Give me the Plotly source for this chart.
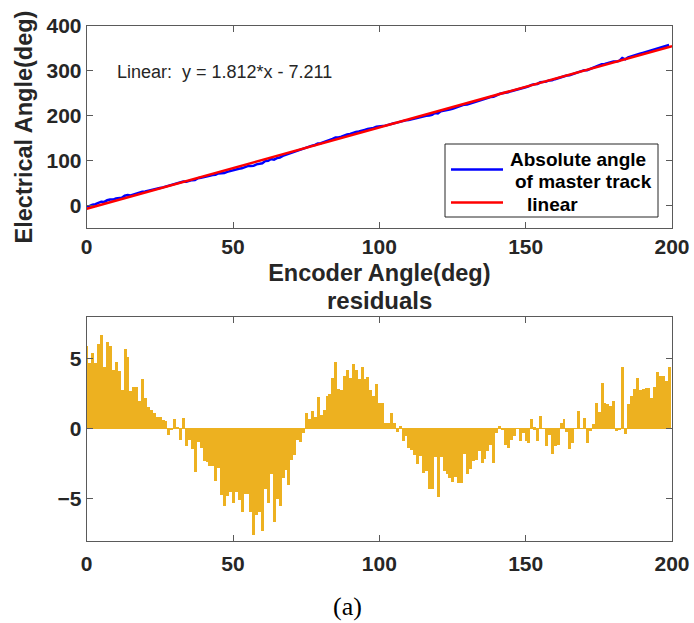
import plotly.graph_objects as go
from plotly.subplots import make_subplots

# Encoder angle samples (deg), one per degree
encoder_angle = list(range(200))

# Residuals of the linear fit (deg)
residuals = [
    5.9, 4.7, 5.4, 4.7, 6.1, 6.75, 4.4, 6.25, 5.95, 4.2,
    4.8, 4.15, 2.8, 5.7, 5.15, 2.7, 3.0, 3.0, 2.0, 3.6,
    2.2, 1.6, 1.4, 1.15, 0.85, 0.85, 0.65, 0.6, -0.45, 0.05,
    0.7, 0.15, -0.8, 0.78,
    -1.23, -0.8, -1.4, -3.07, -0.9, -1.37, -2.24, -2.36, -2.64, -2.64,
    -3.7, -2.8, -4.7, -5.5, -4.8, -4.5, -5.3, -4.5, -5.07, -5.9,
    -4.6, -4.6, -5.9, -7.55, -6.1, -5.9, -7.3, -4.3, -5.3, -3.2,
    -6.6, -4.95, -5.5,
    -3.5, -2.9, -3.95, -2.2, -1.85, -0.8, -0.9, -0.25,
    1.18, 0.75, 1.3, 0.9, 2.3, 1.0, 1.35, 2.36, 2.48, 3.66,
    4.76, 2.88, 2.8, 3.77, 4.2, 3.66, 4.67, 4.2,
    3.6, 4.4, 3.6, 3.7, 2.8, 2.4, 3.25, 1.9, 1.9, 0.42,
    0.42, 1.18, 0.42, -0.17, 0.2, -0.87, -0.52, -1.34, -1.46, -1.86,
    -2.48, -1.93, -3.1, -3.0, -4.25, -4.3, -2.0, -4.85, -2.0, -2.95,
    -3.2, -3.45, -3.77, -3.4, -3.87, -3.87, -1.77, -3.18, -2.83, -2.29,
    -2.2, -1.58, -2.4, -2.12, -1.58, -1.1, -2.4, -0.28, 0.2, 0.1,
    -1.1, -1.34,
    -0.75, -0.52, 0.0, -0.87, -0.28, -0.87, -1.0, 0.7, 0.14, -0.87,
    0.94, 0.0, -1.18, -0.4, -1.8, -1.23, -1.1, 0.42, 0.73, -0.17,
    -1.42, -1.0, 0.0, 1.32, 0.0, 0.78,
    -1.0, -0.1, 0.35, 1.9, 1.23, 3.3, 1.9, 1.77, 1.65, 2.0,
    -0.1, -0.05, 4.4, -0.35, 1.77, 2.36, 2.83, 3.66, 2.78, 2.88,
    2.95, 2.95, 2.24, 3.0, 4.05, 3.77, 3.77, 3.4, 4.43,
]

# Linear fit coefficients: y = slope*x + intercept
fit_slope = 1.812
fit_intercept = -7.211
fit_x = [0, 200]

# Measured absolute angle = fitted value + residual
electrical_angle = [fit_slope * a + fit_intercept + r for a, r in zip(encoder_angle, residuals)]
fit_y = [fit_slope * x + fit_intercept for x in fit_x]

top_yticks = [0, 100, 200, 300, 400]
bottom_yticks = [-5, 0, 5]
xticks = [0, 50, 100, 150, 200]

FONT = "Liberation Sans"
TXT = "#262626"
AXC = "#5a5a5a"
BAR = "#EDB120"
BLUE = "#0000FF"
RED = "#FF0000"

W, H = 694, 623


def px(xp):
    return xp / W


def py(yp):
    return 1 - yp / H


fig = make_subplots(rows=2, cols=1)

fig.add_trace(go.Scatter(
    x=encoder_angle, y=electrical_angle, mode="lines",
    line=dict(color=BLUE, width=2.5), showlegend=False,
    name="Absolute angle of master track",
), row=1, col=1)
fig.add_trace(go.Scatter(
    x=fit_x, y=fit_y, mode="lines",
    line=dict(color=RED, width=2.5), showlegend=False,
    name="linear",
), row=1, col=1)

fig.add_trace(go.Bar(
    x=encoder_angle, y=residuals, width=1.0,
    marker=dict(color=BAR, line=dict(width=0)),
    showlegend=False, name="residuals",
), row=2, col=1)

axis_common = dict(
    showline=True, linecolor=AXC, linewidth=1, mirror="ticks",
    ticks="inside", ticklen=6, tickcolor=AXC, showgrid=False,
    automargin=False,
    tickfont=dict(family=FONT, size=21, color=TXT, weight="bold"),
)
title_font = dict(family=FONT, size=23.5, color=TXT, weight="bold")

x0, x1 = px(86.7), px(672)
fig.update_layout(
    width=W, height=H,
    margin=dict(l=0, r=0, t=0, b=0),
    paper_bgcolor="white", plot_bgcolor="white",
    bargap=0, showlegend=False,
    xaxis=dict(domain=[x0, x1], range=[0, 200], tickvals=xticks,
               title=dict(text="Encoder Angle(deg)", standoff=7, font=title_font),
               zeroline=False, **axis_common),
    yaxis=dict(domain=[py(228), py(26)], range=[-50, 400], tickvals=top_yticks,
               title=dict(text="Electrical Angle(deg)", standoff=7, font=title_font),
               zeroline=False, **axis_common),
    xaxis2=dict(domain=[x0, x1], range=[0, 200], tickvals=xticks,
                ticklabelstandoff=4, zeroline=False, **axis_common),
    yaxis2=dict(domain=[py(541), py(316.7)], range=[-8, 8], tickvals=bottom_yticks,
                zeroline=True, zerolinecolor=BAR, zerolinewidth=1, **axis_common),
)

# Legend box for the upper panel
legend_font = dict(family=FONT, size=19, color="#000000", weight="bold")
fig.add_shape(type="rect", xref="paper", yref="paper",
              x0=px(445), x1=px(658), y0=py(217), y1=py(144),
              line=dict(color="#262626", width=1), fillcolor="white", layer="above")
fig.add_shape(type="line", xref="paper", yref="paper",
              x0=px(451), x1=px(503), y0=py(169.5), y1=py(169.5),
              line=dict(color=BLUE, width=2.5), layer="above")
fig.add_shape(type="line", xref="paper", yref="paper",
              x0=px(451), x1=px(503), y0=py(202.5), y1=py(202.5),
              line=dict(color=RED, width=2.5), layer="above")

annotations = [
    dict(text="Absolute angle", x=px(508), y=py(160), xanchor="left", font=legend_font),
    dict(text="of master track", x=px(513), y=py(181.5), xanchor="left", font=legend_font),
    dict(text="linear", x=px(525), y=py(204), xanchor="left", font=legend_font),
    dict(text="Linear:  y = 1.812*x - 7.211", x=px(115), y=py(72), xanchor="left",
         font=dict(family=FONT, size=18, color=TXT)),
    dict(text="residuals", x=(x0 + x1) / 2, y=py(300), xanchor="center",
         font=dict(family=FONT, size=24, color=TXT, weight="bold")),
    dict(text="(a)", x=px(347), y=py(606), xanchor="center",
         font=dict(family="Liberation Serif", size=26, color="#000000")),
]
for a in annotations:
    fig.add_annotation(xref="paper", yref="paper", yanchor="middle",
                       showarrow=False, **a)

fig.write_html("out.html")
